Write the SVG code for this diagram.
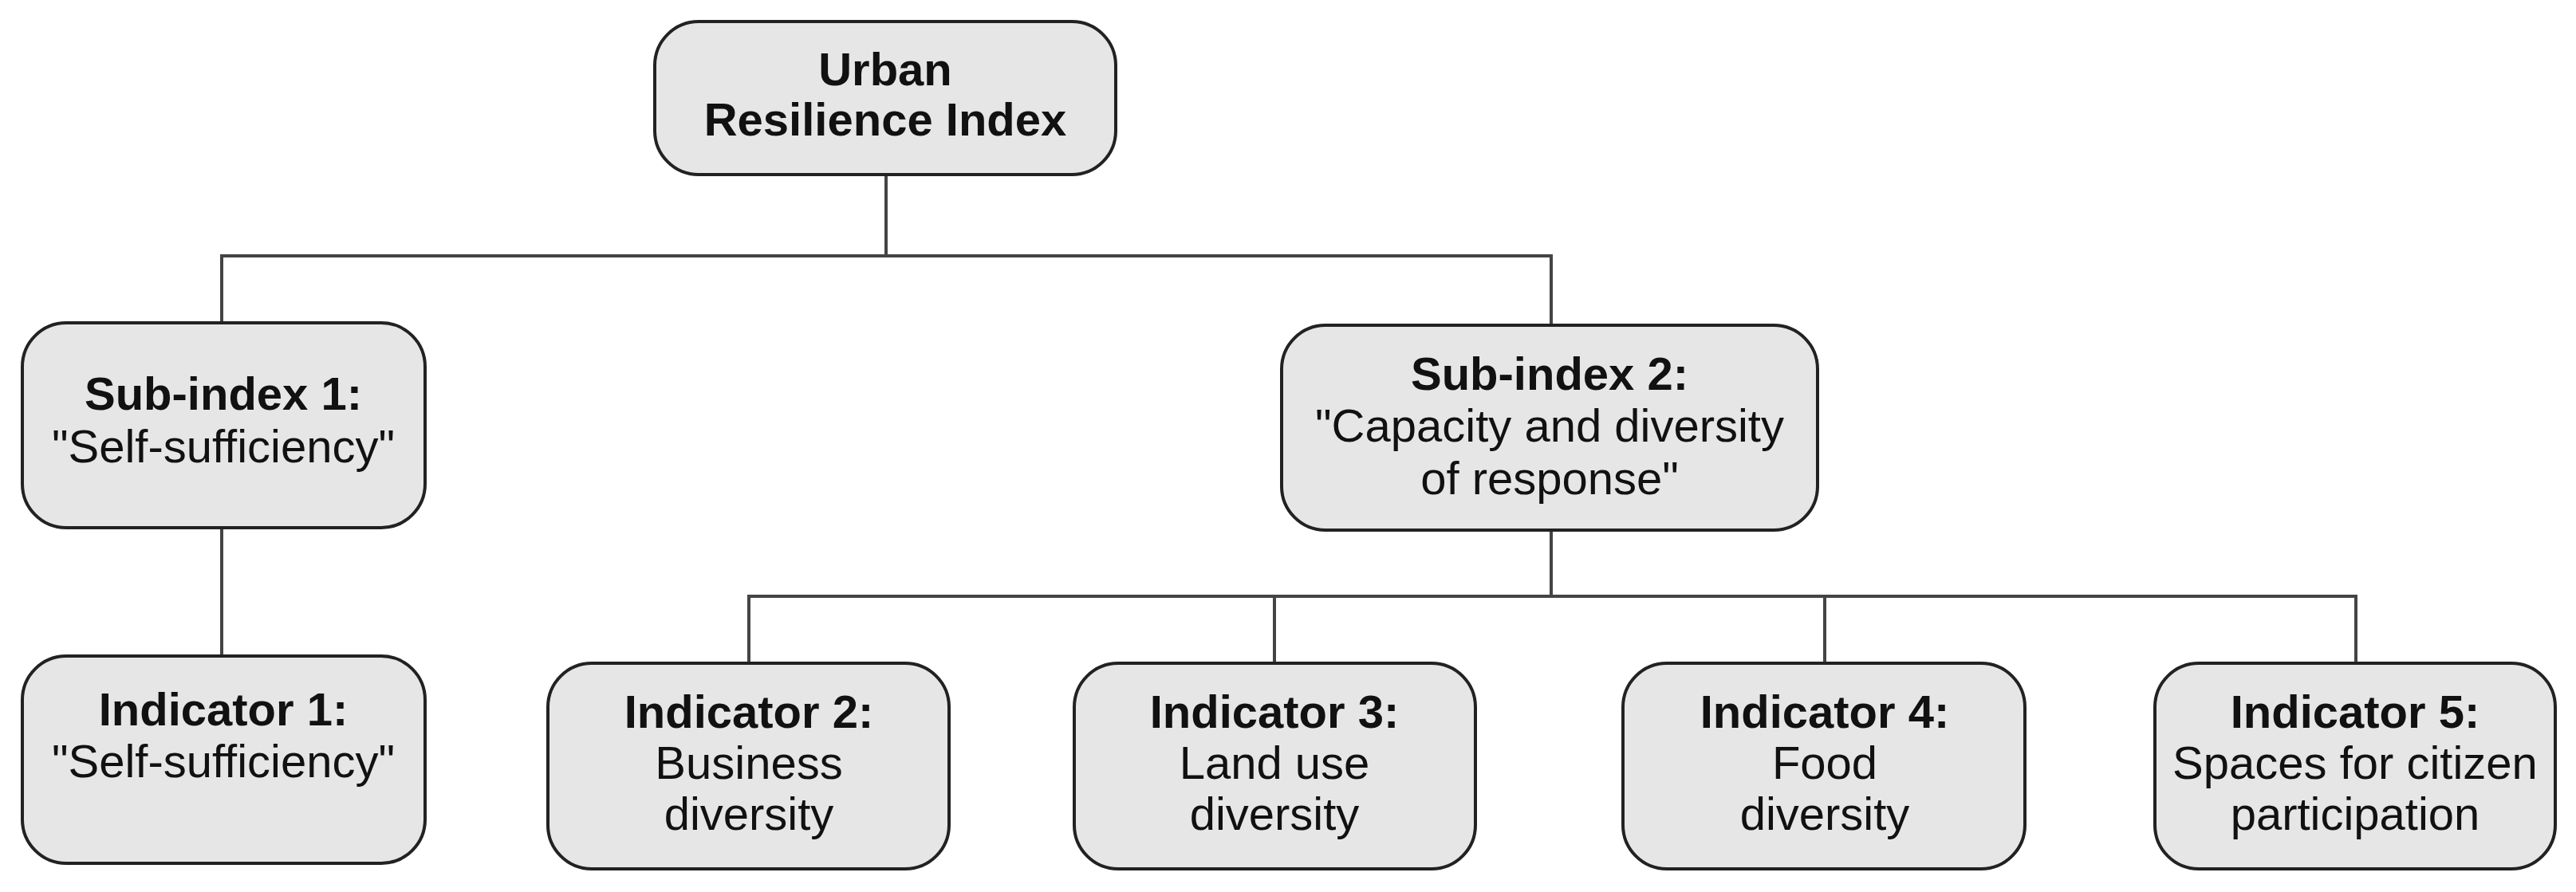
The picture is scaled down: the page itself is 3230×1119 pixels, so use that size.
<svg xmlns="http://www.w3.org/2000/svg" width="3230" height="1119" viewBox="0 0 3230 1119">
<style>
rect{fill:#e6e6e6;stroke:#222;stroke-width:4}
text{font-family:"Liberation Sans",Arial,sans-serif;font-size:58px;text-anchor:middle;fill:#111}
.b{font-weight:bold}
#connectors path{fill:none;stroke:#444;stroke-width:4}
</style>
<rect x="0" y="0" width="3230" height="1119" style="fill:#fff;stroke:none"/>
<g id="connectors">
<path d="M1111 219V321M278 405V321H1945V408"/>
<path d="M278 662V823"/>
<path d="M1945 665V748M939 832V748H2954V832M1598 748V832M2288 748V832"/>
</g>
<g id="root"><rect x="821" y="27" width="578" height="192" rx="55"/>
<text x="1110" y="107" class="b">Urban</text><text x="1110" y="170" class="b">Resilience Index</text></g>
<g id="sub1"><rect x="28" y="405" width="505" height="257" rx="55"/>
<text x="280" y="514" class="b">Sub-index 1:</text><text x="280" y="580">"Self-sufficiency"</text></g>
<g id="sub2"><rect x="1607" y="408" width="672" height="257" rx="55"/>
<text x="1943" y="489" class="b">Sub-index 2:</text><text x="1943" y="554">"Capacity and diversity</text><text x="1943" y="620">of response"</text></g>
<g id="ind1"><rect x="28" y="823" width="505" height="260" rx="55"/>
<text x="280" y="910" class="b">Indicator 1:</text><text x="280" y="975">"Self-sufficiency"</text></g>
<g id="ind2"><rect x="687" y="832" width="503" height="258" rx="55"/>
<text x="939" y="913" class="b">Indicator 2:</text><text x="939" y="977">Business</text><text x="939" y="1041">diversity</text></g>
<g id="ind3"><rect x="1347" y="832" width="503" height="258" rx="55"/>
<text x="1598" y="913" class="b">Indicator 3:</text><text x="1598" y="977">Land use</text><text x="1598" y="1041">diversity</text></g>
<g id="ind4"><rect x="2035" y="832" width="504" height="258" rx="55"/>
<text x="2288" y="913" class="b">Indicator 4:</text><text x="2288" y="977">Food</text><text x="2288" y="1041">diversity</text></g>
<g id="ind5"><rect x="2702" y="832" width="502" height="258" rx="55"/>
<text x="2953" y="913" class="b">Indicator 5:</text><text x="2953" y="977">Spaces for citizen</text><text x="2953" y="1041">participation</text></g>
</svg>
